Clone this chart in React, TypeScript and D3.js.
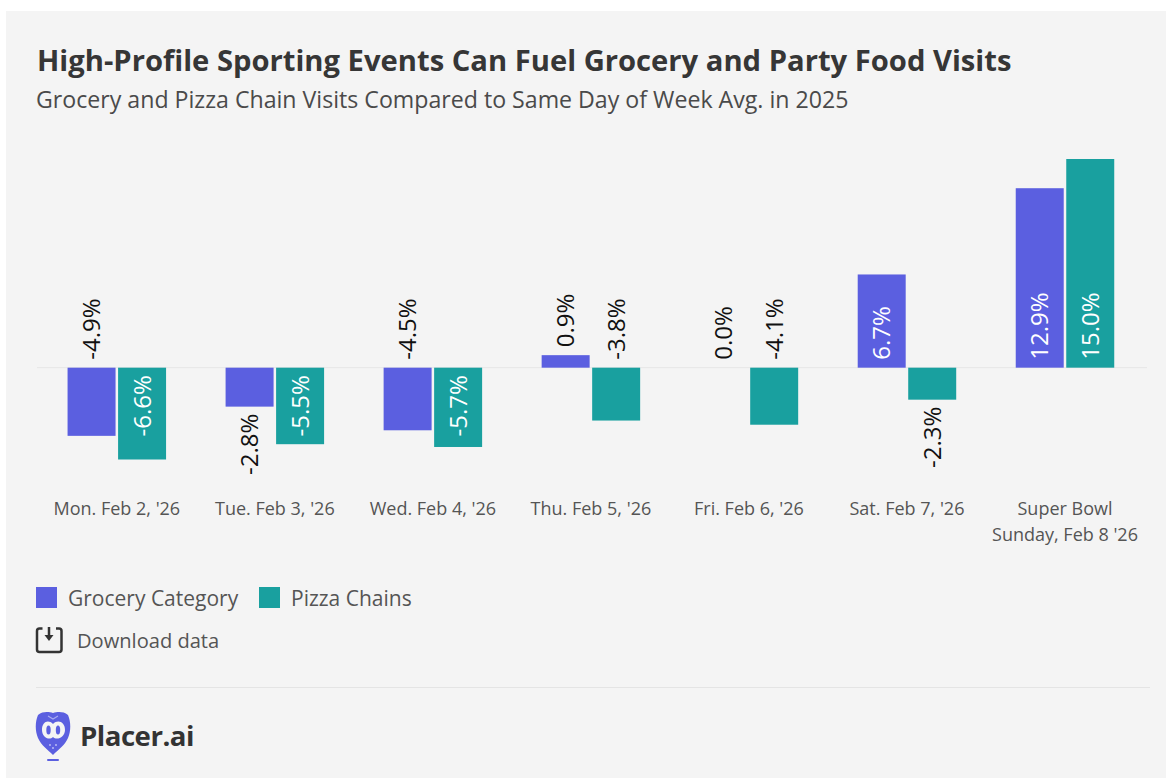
import React, { useEffect, useRef } from 'react';
import * as d3 from 'd3';

const days = ["Mon. Feb 2, '26", "Tue. Feb 3, '26", "Wed. Feb 4, '26", "Thu. Feb 5, '26", "Fri. Feb 6, '26", "Sat. Feb 7, '26", "Super Bowl\nSunday, Feb 8 '26"];
const groceryValues = [-4.9, -2.8, -4.5, 0.9, 0.0, 6.7, 12.9];
const pizzaValues = [-6.6, -5.5, -5.7, -3.8, -4.1, -2.3, 15.0];
const seriesNames = ['Grocery Category', 'Pizza Chains'];
const seriesColors = ['#5b5fe0', '#19a09f'];
// outside labels that hang under their bar, the other ones sit on the axis
const labelsBelowBar = [-2.8, -2.3];

const FONT = '"Open Sans", sans-serif';

export default function App() {
    const chartRef = useRef<SVGSVGElement | null>(null);

    useEffect(() => {
        if (!chartRef.current) return;

        const svg = d3.select(chartRef.current);
        svg.selectAll('*').remove();

        svg.append('rect').attr('x', 6).attr('y', 11).attr('width', 1160).attr('height', 767).attr('fill', '#f4f4f4');

        svg.append('text').attr('x', 37).attr('y', 71)
            .style('font-size', '29.2px').style('font-weight', 700).style('fill', '#363636')
            .text('High-Profile Sporting Events Can Fuel Grocery and Party Food Visits');
        svg.append('text').attr('x', 36).attr('y', 108)
            .style('font-size', '23.15px').style('fill', '#4a4a4a')
            .text('Grocery and Pizza Chain Visits Compared to Same Day of Week Avg. in 2025');

        const x0 = d3.scaleBand().domain(days).range([37.8, 1144]);
        const x1 = d3.scaleBand().domain(seriesNames).range([0, 98.5]).paddingInner(0.05);
        const groupOffset = (x0.bandwidth() - 98.5) / 2;
        const y = d3.scaleLinear().domain([-6.6, 15]).range([459.5, 159]);

        svg.append('line').attr('x1', 37).attr('x2', 1147).attr('y1', y(0)).attr('y2', y(0))
            .attr('stroke', '#e6e6e6').attr('stroke-width', 1);

        [groceryValues, pizzaValues].forEach((values, s) => {
            const name = seriesNames[s];
            const g = svg.append('g');
            values.forEach((v, i) => {
                const bx = x0(days[i])! + groupOffset + x1(name)!;
                const bw = x1.bandwidth();
                const y0 = y(0);
                const yv = y(v);
                if (v !== 0) {
                    g.append('rect').attr('x', bx).attr('width', bw)
                        .attr('y', Math.min(y0, yv)).attr('height', Math.abs(yv - y0))
                        .attr('fill', seriesColors[s]);
                }
                // tall bars hold the label, short ones get it outside in black
                const inside = Math.abs(v) >= 5;
                let anchor = 'start';
                let ly = y0 - 8;
                if (inside && v < 0) {
                    anchor = 'end';
                    ly = y0 + 7.5;
                } else if (labelsBelowBar.includes(v)) {
                    anchor = 'end';
                    ly = yv + 7;
                } else if (v > 0 && !inside) {
                    ly = yv - 8;
                }
                g.append('text')
                    .attr('transform', `translate(${bx + bw / 2},${ly}) rotate(-90)`)
                    .attr('text-anchor', anchor)
                    .attr('dy', '0.36em')
                    .style('font-size', '24px')
                    .style('fill', inside ? '#ffffff' : '#111111')
                    .text(`${v.toFixed(1)}%`);
            });
        });

        days.forEach((d) => {
            const cx = x0(d)! + x0.bandwidth() / 2;
            d.split('\n').forEach((ln, i) => {
                svg.append('text').attr('x', cx).attr('y', 514.5 + i * 26.5)
                    .attr('text-anchor', 'middle')
                    .style('font-size', '18px').style('fill', '#555555')
                    .text(ln);
            });
        });

        // legend
        const legendX = [36, 259];
        seriesNames.forEach((name, i) => {
            svg.append('rect').attr('x', legendX[i]).attr('y', 587).attr('width', 21).attr('height', 21)
                .attr('fill', seriesColors[i]);
            svg.append('text').attr('x', legendX[i] + 32).attr('y', 605.5)
                .style('font-size', '21px').style('fill', '#555555').text(name);
        });

        // download icon
        const icon = svg.append('g').attr('fill', 'none').attr('stroke', '#333333').attr('stroke-width', 2.5);
        icon.append('path').attr('d', 'M42.5 628.5 H39.5 Q37 628.5 37 631 V649.5 Q37 652 39.5 652 H59 Q61.5 652 61.5 649.5 V631 Q61.5 628.5 59 628.5 H56');
        icon.append('path').attr('d', 'M49 627 V637');
        svg.append('path').attr('d', 'M44.5 635 H53.5 L49 641 Z').attr('fill', '#333333');
        svg.append('text').attr('x', 77).attr('y', 648)
            .style('font-size', '20.1px').style('fill', '#555555').text('Download data');

        svg.append('line').attr('x1', 36).attr('x2', 1150).attr('y1', 687.5).attr('y2', 687.5)
            .attr('stroke', '#e4e4e4').attr('stroke-width', 1);

        // owl logo
        const owl = svg.append('g');
        owl.append('path')
            .attr('d', 'M38 715 C43 711 49 712 53 713 C57 712 63 711 68 715 C71 722 71 731 68 738 C65 745 58 750 53 755 C48 750 41 745 38 738 C35 731 35 722 38 715 Z')
            .attr('fill', '#5b5fe0');
        owl.append('path')
            .attr('d', 'M53 724 C48 719 42 722 42 730 C42 737 49 741 53 737 C57 741 65 737 65 730 C65 722 58 719 53 724 Z')
            .attr('fill', '#f4f4f4');
        owl.append('path').attr('d', 'M48 716 L53 719 L58 716')
            .attr('fill', 'none').attr('stroke', '#a9abf0').attr('stroke-width', 1.2);
        owl.append('ellipse').attr('cx', 48.5).attr('cy', 730).attr('rx', 2.2).attr('ry', 4.5).attr('fill', '#5b5fe0');
        owl.append('ellipse').attr('cx', 58).attr('cy', 730).attr('rx', 2.2).attr('ry', 4.5).attr('fill', '#5b5fe0');
        owl.append('circle').attr('cx', 50).attr('cy', 745).attr('r', 0.9).attr('fill', '#c4c5f5');
        owl.append('circle').attr('cx', 56).attr('cy', 745).attr('r', 0.9).attr('fill', '#c4c5f5');
        owl.append('circle').attr('cx', 53).attr('cy', 748).attr('r', 0.9).attr('fill', '#c4c5f5');
        owl.append('rect').attr('x', 47).attr('y', 759).attr('width', 12).attr('height', 2).attr('rx', 1).attr('fill', '#5b5fe0');
        svg.append('text').attr('x', 80).attr('y', 746)
            .style('font-size', '27.6px').style('font-weight', 700).style('fill', '#333333')
            .style('letter-spacing', '-0.5px').text('Placer.ai');
    }, []);

    return (
        <svg
            ref={chartRef}
            width={1166}
            height={778}
            style={{ position: 'absolute', left: 0, top: 0, background: '#fff', fontFamily: FONT }}
        />
    );
}
